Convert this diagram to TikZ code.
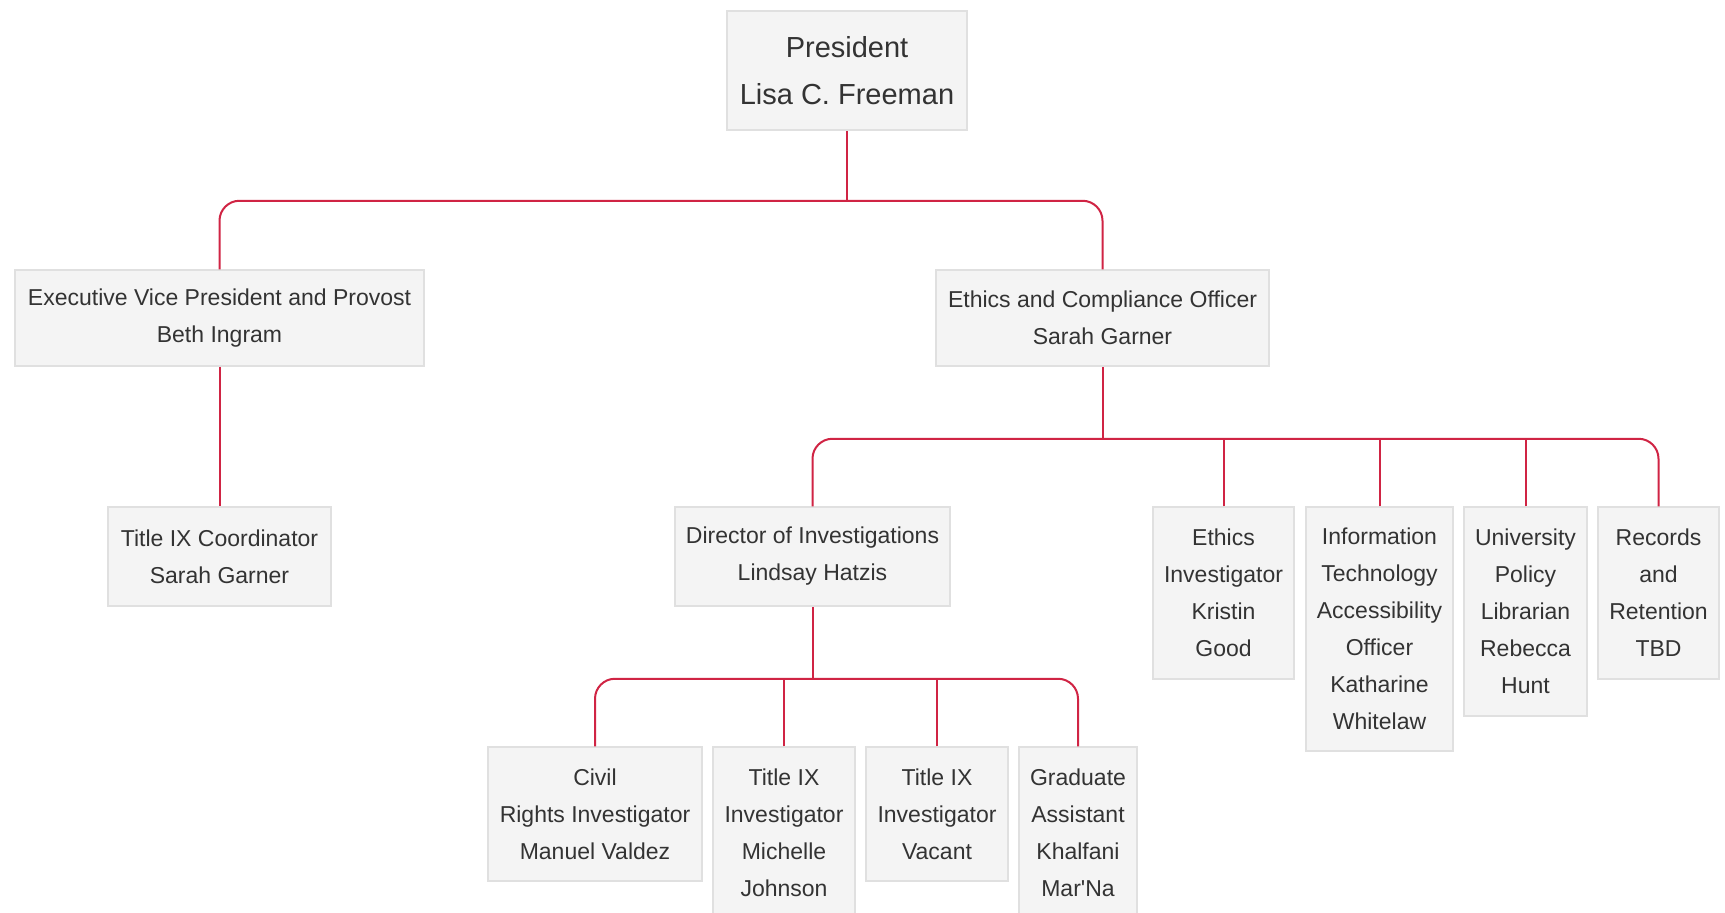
\documentclass[tikz,border=0pt]{standalone}
\usepackage{fontspec}
\newfontfamily\orgfont{Liberation Sans}
\definecolor{connred}{RGB}{208,36,68}
\definecolor{boxfill}{RGB}{244,244,244}
\definecolor{boxline}{RGB}{224,224,224}
\definecolor{txtgray}{RGB}{51,51,51}
\newcommand{\orgnode}[7][]{%
  \node[orgbox,#1,minimum width={(#5-#3)*1pt},minimum height={(#6-#4)*1pt}]
    (#2) at ({(#3+#5)/2},{(#4+#6)/2}) {#7};}
\begin{document}
\begin{tikzpicture}[x=1pt,y=-1pt,
  orgbox/.style={draw=boxline,fill=boxfill,line width=1.5pt,inner sep=0pt,
    align=center,text=txtgray,font=\orgfont\fontsize{23}{37}\selectfont},
  bigtext/.style={font=\orgfont\fontsize{29}{47}\selectfont},
  link/.style={draw=connred,line width=2pt,rounded corners=20pt}]
\clip (0,0) rectangle (1725,913);
\fill[white] (0,0) rectangle (1725,913);

\orgnode[bigtext]{pres}{727}{11}{967}{130}{President\\Lisa C. Freeman}
\orgnode{evp}{15}{270}{424}{366}{Executive Vice President and Provost\\Beth Ingram}
\orgnode{eth}{936}{270}{1269}{366}{Ethics and Compliance Officer\\Sarah Garner}
\orgnode{tic}{108}{507}{331}{606}{Title IX Coordinator\\Sarah Garner}
\orgnode{dir}{675}{507}{950}{606}{Director of Investigations\\Lindsay Hatzis}
\orgnode{einv}{1153}{507}{1294}{679}{Ethics\\Investigator\\Kristin\\Good}
\orgnode{ita}{1306}{507}{1453}{751}{Information\\Technology\\Accessibility\\Officer\\Katharine\\Whitelaw}
\orgnode{upl}{1464}{507}{1587}{716}{University\\Policy\\Librarian\\Rebecca\\Hunt}
\orgnode{rec}{1598}{507}{1719}{679}{Records\\and\\Retention\\TBD}
\orgnode{civ}{488}{747}{702}{881}{Civil\\Rights Investigator\\Manuel Valdez}
\orgnode{mj}{713}{747}{855}{919}{Title IX\\Investigator\\Michelle\\Johnson}
\orgnode{vac}{866}{747}{1008}{881}{Title IX\\Investigator\\Vacant}
\orgnode{grad}{1019}{747}{1137}{919}{Graduate\\Assistant\\Khalfani\\Mar'Na}

% level 1
\path (pres.south) ++(0,70) coordinate (j1);
\draw[link] (pres.south) -- (j1);
\draw[link] (evp.north) |- (j1) -| (eth.north);
\draw[link] (evp.south) -- (tic.north);

% level 2
\path (eth.south) ++(0,72) coordinate (j2);
\draw[link] (eth.south) -- (j2);
\draw[link] (dir.north) |- (j2) -| (rec.north);
\draw[link] (einv.north) -- (einv.north |- j2);
\draw[link] (ita.north) -- (ita.north |- j2);
\draw[link] (upl.north) -- (upl.north |- j2);

% level 3
\path (dir.south) ++(0,72) coordinate (j3);
\draw[link] (dir.south) -- (j3);
\draw[link] (civ.north) |- (j3) -| (grad.north);
\draw[link] (mj.north) -- (mj.north |- j3);
\draw[link] (vac.north) -- (vac.north |- j3);
\end{tikzpicture}
\end{document}
